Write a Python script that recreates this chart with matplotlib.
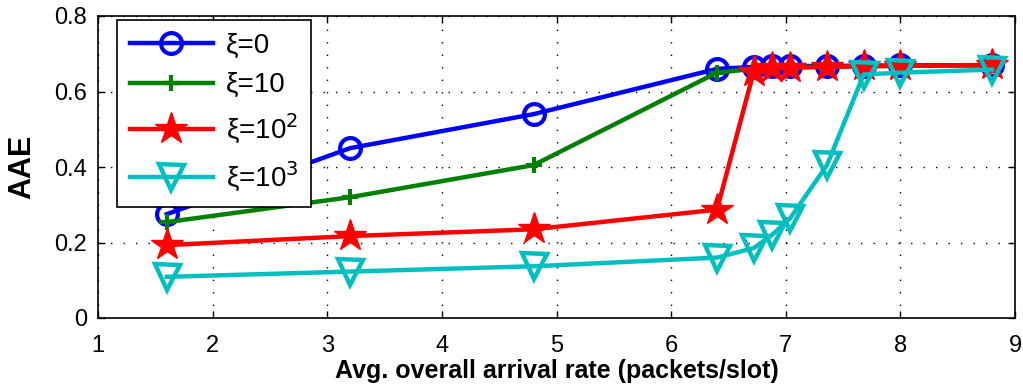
import matplotlib
matplotlib.use("Agg")
import matplotlib.pyplot as plt

plt.rcParams['font.family'] = ['Liberation Sans', 'DejaVu Sans']

x = [1.6, 3.2, 4.8, 6.4, 6.72, 6.88, 7.04, 7.36, 7.68, 8.0, 8.8]
aae_xi0 = [0.275, 0.45, 0.54, 0.66, 0.665, 0.667, 0.667, 0.668, 0.668, 0.669, 0.67]
aae_xi10 = [0.254, 0.32, 0.405, 0.65, 0.66, 0.664, 0.665, 0.666, 0.667, 0.668, 0.67]
aae_xi100 = [0.193, 0.217, 0.235, 0.287, 0.652, 0.662, 0.663, 0.665, 0.667, 0.668, 0.67]
aae_xi1000 = [0.109, 0.123, 0.137, 0.16, 0.185, 0.22, 0.265, 0.405, 0.645, 0.65, 0.658]
labels = ['ξ=0', 'ξ=10', 'ξ=10$^2$', 'ξ=10$^3$']

fig = plt.figure(figsize=(10.23, 3.85), dpi=100)
ax = fig.add_axes([98/1023, 1-318/385, 917/1023, 302/385])

lw = 3.2
ax.plot(x, aae_xi0, color=(0, 0, 1), lw=lw, marker='o', ms=15, mfc='none', mew=3, label=labels[0], zorder=3)
ax.plot(x, aae_xi10, color=(0, 0.5, 0), lw=lw, marker='+', ms=11, mew=3, label=labels[1], zorder=4)
ax.plot(x, aae_xi100, color=(1, 0, 0), lw=lw, marker='*', ms=24, mew=1, label=labels[2], zorder=5)
ax.plot(x, aae_xi1000, color=(0, 0.75, 0.75), lw=lw, marker='v', ms=18, mfc='none', mew=3.2, label=labels[3], zorder=6)

ax.set_xlim(1, 9)
ax.set_ylim(0, 0.8)
ax.set_xticks(range(1, 10))
ax.set_yticks([0, 0.2, 0.4, 0.6, 0.8])
ax.set_yticklabels(['0', '0.2', '0.4', '0.6', '0.8'])
ax.tick_params(direction='in', top=True, right=True, labelsize=17, length=5, width=1)
ax.tick_params(axis='x', pad=12)
ax.tick_params(axis='y', pad=8)
ax.grid(True, linestyle=(0, (1, 8)), color='black', linewidth=1)
for s in ax.spines.values():
    s.set_linewidth(1.2)

ax.set_xlabel('Avg. overall arrival rate (packets/slot)', fontsize=18, fontweight='bold', labelpad=2)
ax.set_ylabel('AAE', fontsize=22, fontweight='bold', labelpad=12)

leg = ax.legend(loc='upper left', bbox_to_anchor=(0.021, 0.987), fontsize=20,
                handlelength=3.0, frameon=True, fancybox=False, edgecolor='black',
                framealpha=1, borderpad=0.45, labelspacing=0.5, handletextpad=0.45,
                borderaxespad=0)
leg.get_frame().set_linewidth(1.2)
leg.set_zorder(10)

fig.savefig('out.png', dpi=100)
